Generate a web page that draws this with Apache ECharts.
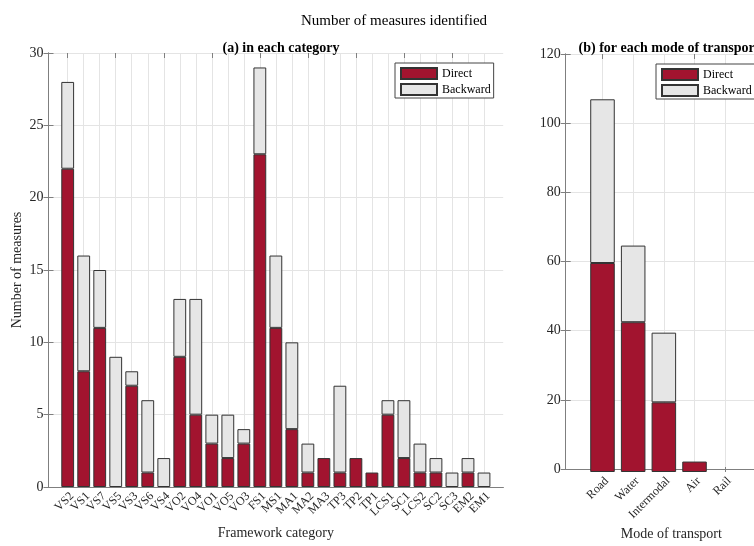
<!DOCTYPE html>
<html>
<head>
<meta charset="utf-8">
<script src="https://cdn.jsdelivr.net/npm/echarts@6/dist/echarts.min.js"></script>
<style>
  html, body { margin: 0; padding: 0; background: #fff; }
  #chart { width: 754px; height: 546px; }
</style>
</head>
<body>
<div id="chart"></div>
<script>
// Measures per framework category
const categories = ['VS2','VS1','VS7','VS5','VS3','VS6','VS4','VO2','VO4','VO1','VO5','VO3','FS1','MS1','MA1','MA2','MA3','TP3','TP2','TP1','LCS1','SC1','LCS2','SC2','SC3','EM2','EM1'];
const directByCategory   = [22, 8, 11, 0, 7, 1, 0, 9, 5, 3, 2, 3, 23, 11, 4, 1, 2, 1, 2, 1, 5, 2, 1, 1, 0, 1, 0];
const backwardByCategory = [ 6, 8,  4, 9, 1, 5, 2, 4, 8, 2, 3, 1,  6,  5, 6, 2, 0, 6, 0, 0, 1, 4, 2, 1, 1, 1, 1];

// Measures per mode of transport
const modes = ['Road', 'Water', 'Intermodal', 'Air', 'Rail'];
const directByMode   = [60, 43, 20, 3, 0];
const backwardByMode = [47, 22, 20, 0, 0];

const FONT = "'Liberation Serif', 'Times New Roman', serif";
const RED = '#A2142F';
const GREY = '#E6E6E6';
const EDGE = '#333333';
const FRAME = '#7f7f7f';
const GRIDLINE = '#e4e4e4';
const TEXT = '#262626';

const chart = echarts.init(document.getElementById('chart'), null, { renderer: 'canvas' });

// empty segments are left out so no outline is drawn on the baseline
const drawn = arr => arr.map(v => (v === 0 ? null : v));

function frameX(gridIndex, position, name, nameExtra) {
  const ax = {
    type: 'value', gridIndex, position, min: 0, max: 1,
    axisLine: { show: true, lineStyle: { color: FRAME, width: 1 } },
    axisTick: { show: false }, axisLabel: { show: false }, splitLine: { show: false }
  };
  if (name) {
    Object.assign(ax, {
      name, nameLocation: 'middle', nameMoveOverlap: false,
      nameTextStyle: Object.assign({ fontFamily: FONT, fontSize: 14, color: TEXT }, nameExtra || {})
    });
  }
  return ax;
}

function catX(gridIndex, position, data, withLabels) {
  return {
    type: 'category', gridIndex, position, data, boundaryGap: false,
    axisLine: { show: false },
    axisTick: { show: true, inside: true, length: 5, lineStyle: { color: FRAME } },
    axisLabel: withLabels ? {
      show: true, interval: 0, rotate: 45, margin: 3,
      align: 'right', verticalAlign: 'top',
      fontFamily: FONT, fontSize: 12, color: TEXT
    } : { show: false },
    splitLine: { show: withLabels, interval: 0, lineStyle: { color: GRIDLINE, width: 1 } }
  };
}

function frameY(gridIndex, position, max, interval, withLabels, name) {
  const ax = {
    type: 'value', gridIndex, position, min: 0, max, interval,
    axisLine: { show: true, lineStyle: { color: FRAME, width: 1 } },
    axisTick: { show: true, inside: true, length: 5, lineStyle: { color: FRAME } },
    axisLabel: withLabels ? { show: true, margin: 5, fontFamily: FONT, fontSize: 14, color: TEXT } : { show: false },
    splitLine: { show: withLabels, lineStyle: { color: GRIDLINE, width: 1 } }
  };
  if (name) {
    Object.assign(ax, {
      name, nameLocation: 'middle', nameGap: 24, nameMoveOverlap: false,
      nameTextStyle: { fontFamily: FONT, fontSize: 14, color: TEXT }
    });
  }
  return ax;
}

function hiddenY(gridIndex, max) {
  return { type: 'value', gridIndex, min: 0, max, show: false };
}

function barSeries(name, xAxisIndex, yAxisIndex, stack, data, color) {
  return {
    type: 'bar', name, xAxisIndex, yAxisIndex, stack, data: drawn(data),
    barWidth: '80%', clip: false,
    itemStyle: { color, borderColor: EDGE, borderWidth: 1 },
    emphasis: { disabled: true },
    animation: false
  };
}

function legendAt(left, top) {
  return {
    left, top, orient: 'vertical',
    data: ['Direct', 'Backward'],
    icon: 'rect',
    itemWidth: 36, itemHeight: 11, itemGap: 3,
    padding: [4, 3, 2, 5],
    backgroundColor: '#fff', borderColor: '#444', borderWidth: 1,
    textStyle: { fontFamily: FONT, fontSize: 12, color: '#000', lineHeight: 12 }
  };
}

chart.setOption({
  backgroundColor: '#fff',
  animation: false,
  title: [
    { text: 'Number of measures identified', left: 389, top: 9, textAlign: 'center',
      textStyle: { fontFamily: FONT, fontSize: 15, fontWeight: 'normal', color: '#000' } },
    { text: '(a) in each category', left: 276, top: 36, textAlign: 'center',
      textStyle: { fontFamily: FONT, fontSize: 14, fontWeight: 'bold', color: '#000' } },
    { text: '(b) for each mode of transport', left: 664, top: 36, textAlign: 'center',
      textStyle: { fontFamily: FONT, fontSize: 14, fontWeight: 'bold', color: '#000' } }
  ],
  legend: [legendAt(395, 63), legendAt(656, 64)],
  grid: [
    { left: 48.5, right: 250.8, top: 53, bottom: 59 },
    { left: 67.7, right: 270, top: 53, bottom: 59 },
    { left: 565.7, right: -8, top: 54, bottom: 74 },
    { left: 602.5, right: 28.8, top: 54, bottom: 74 }
  ],
  xAxis: [
    Object.assign(frameX(0, 'bottom', 'Framework category'), { nameGap: 39 }),
    frameX(0, 'top'),
    catX(1, 'bottom', categories, true),
    catX(1, 'top', categories, false),
    Object.assign(frameX(2, 'bottom', 'Mode of transport', { padding: [0, 0, 0, 23] }), { nameGap: 58 }),
    frameX(2, 'top'),
    catX(3, 'bottom', modes, true),
    catX(3, 'top', modes, false)
  ],
  yAxis: [
    frameY(0, 'left', 30, 5, true, 'Number of measures'),
    frameY(0, 'right', 30, 5, false),
    hiddenY(1, 30),
    frameY(2, 'left', 120, 20, true),
    frameY(2, 'right', 120, 20, false),
    hiddenY(3, 120)
  ],
  series: [
    barSeries('Direct', 2, 2, 'cat', directByCategory, RED),
    barSeries('Backward', 2, 2, 'cat', backwardByCategory, GREY),
    barSeries('Direct', 6, 5, 'mode', directByMode, RED),
    barSeries('Backward', 6, 5, 'mode', backwardByMode, GREY)
  ]
});
</script>
</body>
</html>
